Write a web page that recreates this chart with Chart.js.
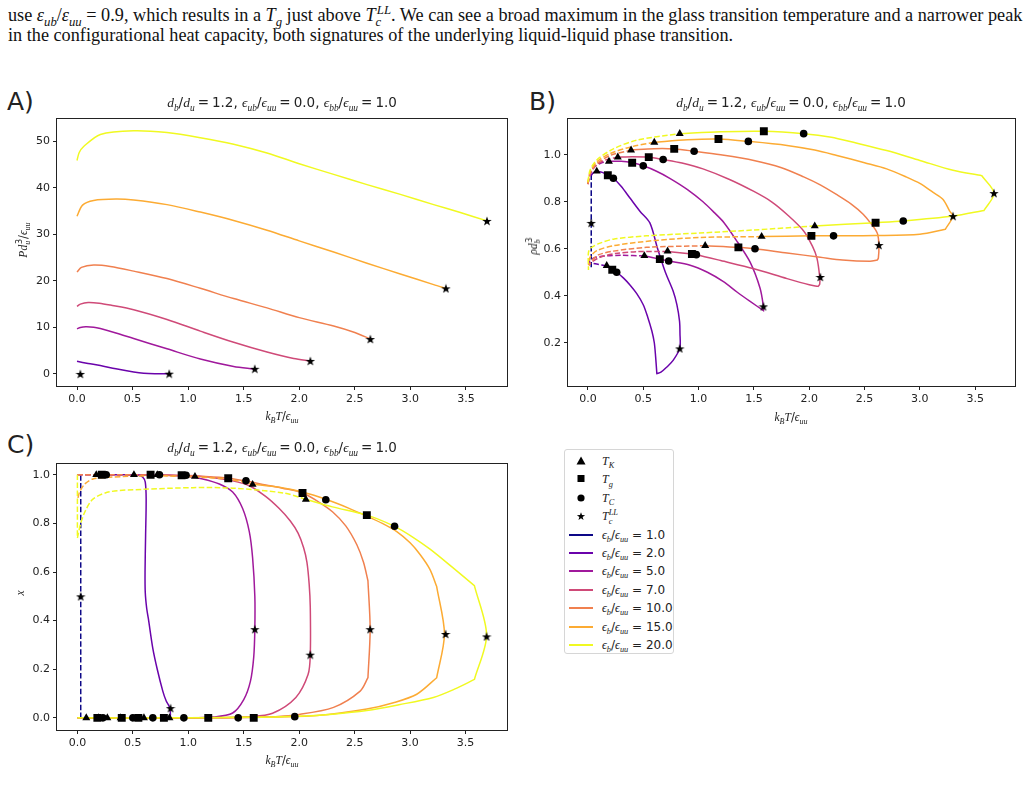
<!DOCTYPE html>
<html>
<head>
<meta charset="utf-8">
<script src="https://cdn.jsdelivr.net/npm/chart.js@4.4.1/dist/chart.umd.min.js"></script>
<style>
  body { margin: 0; background: #fff; }
  #page { position: relative; width: 1030px; height: 803px; overflow: hidden; background: #fff; color: #222; }
  .hdr { position: absolute; left: 8px; font-family: "Liberation Serif", serif; font-size: 18.5px; line-height: 20px; color: #111; white-space: nowrap; transform-origin: 0 0; }
  .hdr i { font-family: "Liberation Serif", serif; }
  .plot { position: absolute; }
  .panel { position: absolute; font-family: "DejaVu Sans", sans-serif; font-size: 25px; line-height: 25px; color: #222; }
  .txt { position: absolute; white-space: nowrap; font-family: "DejaVu Sans", sans-serif; font-size: 13.5px; color: #222; transform: translate(-50%, -50%); }
  .ttl .eq { margin: 0 3px; }
  .lab { font-size: 11.5px; }
  .rot { transform: translate(-50%, -50%) rotate(-90deg); }
  i { font-family: "Liberation Serif", serif; font-style: italic; }
  sub, sup { font-size: 70%; line-height: 0; }
  #legend { position: absolute; left: 564px; top: 449px; width: 108px; height: 203px; border: 1px solid #d6d6d6; border-radius: 3px; background: #fff; }
  .row { position: absolute; left: 0; width: 108px; height: 18px; }
  .sym { position: absolute; left: 4px; top: 0; width: 24px; height: 18px; }
  .rtxt { position: absolute; left: 37px; top: 0; line-height: 18px; font-family: "DejaVu Sans", sans-serif; font-size: 12px; color: #222; white-space: nowrap; }
</style>
</head>
<body>
<div id="page">
  <div class="hdr" id="h1" style="top:5px">use <i>ε</i><sub><i>ub</i></sub>/<i>ε</i><sub><i>uu</i></sub> = 0.9, which results in a <i>T</i><sub><i>g</i></sub> just above <i>T</i><sub><i>c</i></sub><sup style="margin-left:-0.35em"><i>LL</i></sup>. We can see a broad maximum in the glass transition temperature and a narrower peak</div>
  <div class="hdr" id="h2" style="top:25px">in the configurational heat capacity, both signatures of the underlying liquid-liquid phase transition.</div>

  <div class="panel" style="left:7px;top:89px">A)</div>
  <div class="panel" style="left:529px;top:89px">B)</div>
  <div class="panel" style="left:7px;top:432px">C)</div>

  <div class="plot" style="left:7px;top:109px"><canvas id="chA" width="510" height="307"></canvas></div>
  <div class="plot" style="left:523px;top:109px"><canvas id="chB" width="502" height="307"></canvas></div>
  <div class="plot" style="left:7px;top:454px"><canvas id="chC" width="510" height="306"></canvas></div>

  <div class="txt ttl" style="left:282px;top:102px"></div>
  <div class="txt ttl" style="left:791px;top:102px"></div>
  <div class="txt ttl" style="left:282px;top:447px"></div>

  <div class="txt lab xl" style="left:282px;top:416px"></div>
  <div class="txt lab xl" style="left:791px;top:417px"></div>
  <div class="txt lab xl" style="left:282px;top:760px"></div>

  <div class="txt lab rot" style="left:23px;top:240px"><i>Pd</i><sub><i>u</i></sub><sup style="margin-left:-0.4em">3</sup>/<i>ϵ</i><sub><i>uu</i></sub></div>
  <div class="txt lab rot" style="left:533px;top:246px"><i>ρd</i><sub><i>b</i></sub><sup style="margin-left:-0.4em">3</sup></div>
  <div class="txt lab rot" style="left:20px;top:593px"><i>x</i></div>

  <div id="legend"></div>
</div>

<script>
// series: eps_b / eps_uu and their colours
const epsB = [1.0, 2.0, 5.0, 7.0, 10.0, 15.0, 20.0];
const epsColors = ['#0d0887', '#6a03ab', '#a0199c', '#cf4a78', '#f0804f', '#fcab33', '#f0f921'];
const xTicks = [0, 0.5, 1.0, 1.5, 2.0, 2.5, 3.0, 3.5];
const aTicksY = [0, 10, 20, 30, 40, 50];
const bTicksY = [0.2, 0.4, 0.6, 0.8, 1.0];
const cTicksY = [0.0, 0.2, 0.4, 0.6, 0.8, 1.0];

// A) pressure along the LL coexistence line, [T, P]
const aP2 = [[0,2.7],[0.1,2.25],[0.21,1.8],[0.35,1.1],[0.51,0.42],[0.6,0.15],[0.7,0.05],[0.83,0.05]];
const aP5 = [[0,9.7],[0.03,10.0],[0.08,10.15],[0.15,10.05],[0.21,9.75],[0.35,8.8],[0.51,7.6],[0.81,5.4],[1.11,3.2],[1.41,1.6],[1.59,1.06]];
const aP7 = [[0,14.5],[0.03,15.0],[0.1,15.35],[0.2,15.2],[0.3,14.8],[0.51,13.8],[0.81,11.7],[1.11,9.2],[1.41,6.8],[1.71,4.7],[1.95,3.3],[2.1,2.8]];
const aP10 = [[0,21.9],[0.04,22.9],[0.15,23.4],[0.3,23.1],[0.51,22.1],[0.81,20.5],[1.11,18.4],[1.41,16.2],[1.71,14.2],[2.0,12.1],[2.31,10.3],[2.5,8.9],[2.64,7.5]];
const aP15 = [[0,33.9],[0.05,36.3],[0.15,37.3],[0.35,37.6],[0.51,37.4],[0.81,36.4],[1.11,34.8],[1.41,33.0],[1.71,30.9],[2.0,28.6],[2.31,26.2],[2.61,23.8],[2.91,21.5],[3.21,19.2],[3.32,18.4]];
const aP20 = [[0,45.9],[0.02,47.6],[0.06,48.9],[0.21,51.5],[0.51,52.3],[0.81,51.9],[1.11,50.8],[1.41,49.4],[1.71,47.5],[2.0,45.2],[2.31,42.9],[2.61,40.7],[2.91,38.6],[3.21,36.4],[3.45,34.7],[3.69,32.9]];
const aStar = [[0.03,0],[0.83,0.05],[1.6,1.1],[2.1,2.8],[2.64,7.5],[3.32,18.4],[3.69,32.9]];

// B) coexisting densities, [T, rho]; Hi/Lo = dashed low-T parts, Loop = solid part
const bNavy = [[0.03,0.915],[0.03,0.52]];
const bHi2 = [[0.03,0.912],[0.05,0.924],[0.08,0.93]];
const bLoop2 = [[0.08,0.93],[0.13,0.925],[0.18,0.913],[0.23,0.9],[0.3,0.866],[0.38,0.816],[0.47,0.76],[0.56,0.71],[0.63,0.6],[0.7,0.5],[0.77,0.42],[0.804,0.362],[0.828,0.292],[0.832,0.24],[0.83,0.176],[0.77,0.125],[0.714,0.097],[0.66,0.075],[0.623,0.069],[0.623,0.069],[0.612,0.14],[0.6,0.2],[0.578,0.25],[0.54,0.31],[0.5,0.362],[0.44,0.41],[0.38,0.446],[0.32,0.476],[0.26,0.5],[0.22,0.511],[0.17,0.527]];
const bLo2 = [[0.17,0.527],[0.08,0.535],[0.02,0.54]];
const bHi5 = [[0.0,0.875],[0.02,0.915],[0.06,0.948],[0.12,0.965],[0.19,0.972]];
const bLoop5 = [[0.19,0.972],[0.3,0.972],[0.4,0.966],[0.5,0.953],[0.62,0.93],[0.74,0.9],[0.9,0.852],[1.04,0.8],[1.14,0.755],[1.23,0.711],[1.35,0.63],[1.466,0.543],[1.556,0.432],[1.586,0.355],[1.586,0.337],[1.586,0.337],[1.466,0.376],[1.35,0.415],[1.225,0.46],[1.08,0.5],[0.924,0.53],[0.73,0.548],[0.65,0.556],[0.51,0.57]];
const bLo5 = [[0.51,0.57],[0.3,0.572],[0.15,0.569],[0.06,0.562],[0.02,0.55],[0.005,0.535]];
const bHi7 = [[0.0,0.875],[0.02,0.918],[0.07,0.955],[0.16,0.978],[0.27,0.99]];
const bLoop7 = [[0.27,0.99],[0.4,0.992],[0.55,0.99],[0.68,0.98],[0.85,0.965],[1.04,0.94],[1.28,0.895],[1.5,0.844],[1.66,0.8],[1.8,0.746],[1.95,0.676],[2.03,0.61],[2.07,0.56],[2.095,0.48],[2.095,0.45],[2.08,0.44],[2.08,0.44],[2.0,0.447],[1.8,0.473],[1.5,0.515],[1.2,0.55],[0.98,0.575],[0.94,0.578],[0.72,0.588]];
const bLo7 = [[0.72,0.588],[0.45,0.588],[0.25,0.58],[0.11,0.564],[0.04,0.545],[0.01,0.53]];
const bHi10 = [[0.0,0.875],[0.02,0.92],[0.08,0.962],[0.2,0.997],[0.39,1.02]];
const bLoop10 = [[0.39,1.02],[0.6,1.026],[0.78,1.025],[0.96,1.015],[1.2,1.0],[1.5,0.976],[1.75,0.945],[1.95,0.906],[2.1,0.872],[2.25,0.83],[2.38,0.79],[2.49,0.746],[2.57,0.7],[2.6,0.68],[2.62,0.66],[2.63,0.616],[2.625,0.56],[2.615,0.552],[2.615,0.552],[2.55,0.547],[2.3,0.552],[2.1,0.564],[1.8,0.582],[1.51,0.6],[1.36,0.606],[1.06,0.613]];
const bLo10 = [[1.06,0.613],[0.53,0.606],[0.23,0.59],[0.1,0.575],[0.05,0.557],[0.01,0.53]];
const bHi15 = [[0.0,0.88],[0.02,0.927],[0.08,0.97],[0.2,1.005],[0.4,1.035],[0.6,1.053]];
const bLoop15 = [[0.6,1.053],[0.9,1.064],[1.18,1.067],[1.45,1.057],[1.8,1.04],[2.05,1.02],[2.25,0.997],[2.5,0.966],[2.7,0.94],[2.88,0.905],[3.0,0.878],[3.12,0.84],[3.21,0.81],[3.27,0.76],[3.30,0.739],[3.23,0.683],[3.23,0.683],[3.0,0.662],[2.6,0.656],[2.22,0.655],[2.02,0.655],[1.57,0.652]];
const bLo15 = [[1.57,0.652],[1.01,0.648],[0.6,0.635],[0.23,0.613],[0.08,0.592],[0.02,0.564],[0.005,0.53]];
const bHi20 = [[0.0,0.885],[0.02,0.935],[0.08,0.978],[0.23,1.025],[0.44,1.062],[0.83,1.09]];
const bLoop20 = [[0.83,1.09],[1.2,1.098],[1.59,1.10],[1.95,1.09],[2.2,1.075],[2.4,1.053],[2.7,1.018],[3.0,0.976],[3.3,0.934],[3.56,0.911],[3.56,0.911],[3.67,0.837],[3.58,0.763],[3.58,0.763],[3.3,0.739],[2.85,0.718],[2.6,0.711],[2.05,0.697]];
const bLo20 = [[2.05,0.697],[1.5,0.68],[1.01,0.667],[0.53,0.655],[0.23,0.641],[0.11,0.624],[0.03,0.605],[0.005,0.585],[0.005,0.51]];
const bTK = [[0.08,0.93],[0.19,0.972],[0.27,0.99],[0.39,1.02],[0.6,1.053],[0.83,1.09],[0.17,0.528],[0.51,0.57],[0.72,0.59],[1.06,0.613],[1.57,0.652],[2.05,0.697]];
const bTg = [[0.18,0.913],[0.4,0.966],[0.55,0.99],[0.78,1.025],[1.18,1.067],[1.59,1.10],[0.22,0.511],[0.65,0.556],[0.94,0.578],[1.36,0.606],[2.02,0.655],[2.6,0.711]];
const bTC = [[0.23,0.9],[0.5,0.953],[0.68,0.98],[0.96,1.015],[1.45,1.057],[1.95,1.09],[0.26,0.5],[0.73,0.548],[0.98,0.575],[1.51,0.6],[2.22,0.655],[2.85,0.718]];
const bStar = [[0.03,0.71],[0.83,0.176],[1.586,0.355],[2.1,0.48],[2.63,0.616],[3.30,0.739],[3.67,0.837]];

// C) composition x of the coexisting phases, [T, x]
const cNavy = [[0.03,0.0],[0.03,1.0]];
const cLine2 = [[0.17,1.0],[0.4,1.0],[0.55,0.998],[0.59,0.99],[0.612,0.97],[0.62,0.9],[0.615,0.75],[0.61,0.6],[0.612,0.516],[0.625,0.45],[0.64,0.408],[0.68,0.286],[0.72,0.2],[0.77,0.11],[0.8,0.07],[0.83,0.043],[0.83,0.003],[0.5,0.0],[0.08,0.0]];
const cDash5 = [[0.0,1.0],[0.51,1.0]];
const cLine5 = [[0.51,1.0],[0.8,0.998],[1.0,0.993],[1.13,0.983],[1.28,0.962],[1.4,0.929],[1.49,0.861],[1.55,0.766],[1.58,0.658],[1.6,0.5],[1.6,0.365],[1.59,0.25],[1.56,0.15],[1.5,0.075],[1.4,0.02],[1.22,0.003],[1.0,0.0],[0.0,0.0]];
const cDash7 = [[0.0,1.0],[0.72,1.0]];
const cLine7 = [[0.72,1.0],[1.0,0.997],[1.2,0.99],[1.4,0.975],[1.55,0.955],[1.7,0.91],[1.82,0.861],[1.92,0.81],[1.99,0.76],[2.04,0.7],[2.07,0.64],[2.09,0.55],[2.1,0.456],[2.1,0.26],[2.08,0.178],[1.97,0.084],[1.76,0.019],[1.55,0.005],[1.2,0.0],[0.0,0.0]];
const cDash10 = [[0.0,1.0],[0.5,1.0],[1.06,0.995]];
const cLine10 = [[1.06,0.995],[1.36,0.986],[1.51,0.975],[1.7,0.958],[1.85,0.945],[2.03,0.925],[2.17,0.89],[2.3,0.848],[2.42,0.79],[2.52,0.712],[2.58,0.64],[2.62,0.564],[2.62,0.564],[2.64,0.365],[2.62,0.165],[2.62,0.165],[2.55,0.11],[2.31,0.043],[2.0,0.014],[1.7,0.003],[1.2,0.0],[0.0,0.0]];
const cDash15 = [[0.005,0.905],[0.02,0.929],[0.066,0.962],[0.14,0.983],[0.29,0.99],[0.7,0.996],[1.1,0.99],[1.36,0.982],[1.57,0.962]];
const cLine15 = [[1.57,0.962],[1.82,0.949],[2.03,0.929],[2.24,0.899],[2.45,0.862],[2.61,0.83],[2.75,0.8],[2.88,0.766],[3.0,0.72],[3.09,0.672],[3.18,0.61],[3.24,0.54],[3.24,0.54],[3.31,0.345],[3.24,0.165],[3.24,0.165],[3.06,0.097],[2.85,0.062],[2.61,0.036],[2.16,0.0095],[1.7,0.003],[1.0,0.0],[0.0,0.0]];
const cDash20 = [[0.0,1.0],[0.0,0.74],[0.0,0.74],[0.03,0.8],[0.07,0.85],[0.14,0.9],[0.29,0.93],[0.59,0.94],[1.04,0.947],[1.4,0.945],[1.86,0.925],[2.06,0.899]];
const cLine20 = [[2.06,0.899],[2.3,0.868],[2.61,0.834],[2.86,0.788],[3.02,0.745],[3.18,0.694],[3.38,0.62],[3.58,0.544],[3.58,0.544],[3.69,0.34],[3.58,0.158],[3.58,0.158],[3.4,0.118],[3.21,0.084],[2.9,0.054],[2.61,0.03],[2.3,0.015],[2.0,0.007],[1.5,0.002],[0.8,0.0],[0.0,0.0]];
const cTK = [[0.08,0],[0.19,0],[0.27,0],[0.39,0],[0.6,0],[0.83,0],[0.17,1.0],[0.51,1.0],[0.72,1.0],[1.06,0.993],[1.58,0.96],[2.06,0.899]];
const cTg = [[0.18,0],[0.4,0],[0.55,0],[0.78,0],[1.18,0],[1.59,0],[0.22,1.0],[0.66,1.0],[0.94,0.998],[1.36,0.986],[2.03,0.925],[2.61,0.834]];
const cTC = [[0.23,0],[0.5,0],[0.68,0],[0.96,0],[1.45,0],[1.96,0.005],[0.26,1.0],[0.74,1.0],[0.98,0.998],[1.52,0.975],[2.24,0.897],[2.86,0.788]];
const cStar = [[0.03,0.5],[0.84,0.04],[1.6,0.365],[2.1,0.26],[2.64,0.365],[3.32,0.345],[3.69,0.335]];

// per-series lists (index follows epsB)
const aCurves = [null, aP2, aP5, aP7, aP10, aP15, aP20];
const bHiSet = [bNavy, bHi2, bHi5, bHi7, bHi10, bHi15, bHi20];
const bLoopSet = [null, bLoop2, bLoop5, bLoop7, bLoop10, bLoop15, bLoop20];
const bLoSet = [null, bLo2, bLo5, bLo7, bLo10, bLo15, bLo20];
const cDashSet = [cNavy, null, cDash5, cDash7, cDash10, cDash15, cDash20];
const cLineSet = [null, cLine2, cLine5, cLine7, cLine10, cLine15, cLine20];

// filled 5 point star like matplotlib '*'
function starImg(size) {
  const c = document.createElement('canvas');
  c.width = c.height = size;
  const g = c.getContext('2d');
  const r = size / 2, ri = r * 0.4;
  g.beginPath();
  for (let i = 0; i < 10; i++) {
    const a = -Math.PI / 2 + i * Math.PI / 5;
    const rr = i % 2 ? ri : r;
    g.lineTo(r + rr * Math.cos(a), r + 0.5 + rr * Math.sin(a));
  }
  g.closePath();
  g.fillStyle = '#000';
  g.fill();
  return c;
}
const STAR = starImg(10);

const toXY = pts => pts.map(p => ({ x: p[0], y: p[1] }));

function line(pts, color, dashed) {
  return {
    data: toXY(pts), showLine: true, borderColor: color, borderWidth: 1.5,
    borderDash: dashed ? [5.5, 2.4] : [], pointRadius: 0, tension: 0.3, order: 1
  };
}
function marks(pts, style, r) {
  return {
    data: toXY(pts), showLine: false, pointStyle: style, pointRadius: r,
    backgroundColor: '#000', borderColor: '#000', borderWidth: 0, order: 0
  };
}
function markerSets(tk, tg, tc, st) {
  return [marks(tk, 'triangle', 4.6), marks(tg, 'rect', 5.6), marks(tc, 'circle', 3.8), marks(st, STAR, 5)];
}

// draw the full box like matplotlib spines
const frame = {
  id: 'frame',
  afterDatasetsDraw(c) {
    const a = c.chartArea, g = c.ctx;
    g.save();
    g.strokeStyle = '#222';
    g.lineWidth = 1;
    g.strokeRect(Math.round(a.left) - 0.5, Math.round(a.top) - 0.5, Math.round(a.right - a.left) + 1, Math.round(a.bottom - a.top) + 1);
    g.restore();
  }
};

function axis(min, max, ticks, fmt) {
  return {
    type: 'linear', min, max,
    afterBuildTicks: s => { s.ticks = ticks.map(v => ({ value: v })); },
    ticks: { callback: fmt, padding: 3, color: '#222', font: { size: 11 }, maxRotation: 0, autoSkip: false, includeBounds: false },
    grid: { drawOnChartArea: false, drawTicks: true, tickLength: 4, color: '#222', lineWidth: 1 },
    border: { display: false }
  };
}

function makeChart(id, datasets, xr, yr, yTicks, yFmt, yW) {
  const x = axis(xr[0], xr[1], xTicks, v => v.toFixed(1));
  x.afterFit = s => { s.height = 30; };
  const y = axis(yr[0], yr[1], yTicks, yFmt);
  y.afterFit = s => { s.width = yW; };
  return new Chart(document.getElementById(id), {
    type: 'scatter',
    data: { datasets },
    options: {
      responsive: false, animation: false, events: [],
      layout: { padding: { top: 5, right: 10, left: 0, bottom: 0 } },
      plugins: { legend: { display: false }, tooltip: { enabled: false } },
      scales: { x, y }
    },
    plugins: [frame]
  });
}

Chart.defaults.font.family = '"DejaVu Sans", sans-serif';
Chart.defaults.color = '#222';

// A
const dsA = [marks(aStar, STAR, 5)];
for (let i = epsB.length - 1; i >= 0; i--) if (aCurves[i]) dsA.push(line(aCurves[i], epsColors[i], false));
makeChart('chA', dsA, [-0.18, 3.87], [-2.6, 54.9], aTicksY, v => String(v), 50);

// B
const dsB = markerSets(bTK, bTg, bTC, bStar);
for (let i = epsB.length - 1; i >= 0; i--) {
  if (bLoopSet[i]) dsB.push(line(bLoopSet[i], epsColors[i], false));
  if (bHiSet[i]) dsB.push(line(bHiSet[i], epsColors[i], true));
  if (bLoSet[i]) dsB.push(line(bLoSet[i], epsColors[i], true));
}
makeChart('chB', dsB, [-0.18, 3.86], [0.016, 1.154], bTicksY, v => v.toFixed(1), 45);

// C
const dsC = markerSets(cTK, cTg, cTC, cStar);
for (let i = epsB.length - 1; i >= 0; i--) {
  if (cLineSet[i]) dsC.push(line(cLineSet[i], epsColors[i], false));
  if (cDashSet[i]) dsC.push(line(cDashSet[i], epsColors[i], true));
}
makeChart('chC', dsC, [-0.184, 3.874], [-0.05, 1.046], cTicksY, v => v.toFixed(1), 50);

// titles and x labels
const EQ = '<span class="eq">=</span>';
const titleHTML = '<i>d</i><sub><i>b</i></sub>/<i>d</i><sub><i>u</i></sub>' + EQ + '1.2, <i>ϵ</i><sub><i>ub</i></sub>/<i>ϵ</i><sub><i>uu</i></sub>' + EQ + '0.0, <i>ϵ</i><sub><i>bb</i></sub>/<i>ϵ</i><sub><i>uu</i></sub>' + EQ + '1.0';
document.querySelectorAll('.ttl').forEach(el => { el.innerHTML = titleHTML; });
document.querySelectorAll('.xl').forEach(el => { el.innerHTML = '<i>k</i><sub><i>B</i></sub><i>T</i>/<i>ϵ</i><sub><i>uu</i></sub>'; });

// legend
const legendSyms = [
  ['<svg width="24" height="18"><polygon points="12,4.5 16.5,12.5 7.5,12.5" fill="#000"/></svg>', '<i>T</i><sub><i>K</i></sub>'],
  ['<svg width="24" height="18"><rect x="8.5" y="5" width="7" height="7" fill="#000"/></svg>', '<i>T</i><sub><i>g</i></sub>'],
  ['<svg width="24" height="18"><circle cx="12" cy="9" r="3.6" fill="#000"/></svg>', '<i>T</i><sub><i>C</i></sub>'],
  ['<svg width="24" height="18"><polygon fill="#000" points="' +
     Array.from({ length: 10 }, (_, k) => { const a = -Math.PI / 2 + k * Math.PI / 5, rr = k % 2 ? 1.7 : 4.3; return (12 + rr * Math.cos(a)).toFixed(2) + ',' + (9.5 + rr * Math.sin(a)).toFixed(2); }).join(' ') +
     '"/></svg>', '<i>T</i><sub><i>c</i></sub><sup style="margin-left:-0.45em"><i>LL</i></sup>']
];
const leg = document.getElementById('legend');
let html = '';
legendSyms.forEach((s, k) => {
  html += '<div class="row" style="top:' + (2 + k * 18.4) + 'px"><div class="sym">' + s[0] + '</div><div class="rtxt">' + s[1] + '</div></div>';
});
epsB.forEach((e, k) => {
  const top = Math.round(2 + (k + 4) * 18.4);
  html += '<div class="row" style="top:' + top + 'px"><div class="sym"><div style="position:absolute;left:0;top:8px;width:24px;height:2px;background:' + epsColors[k] + '"></div></div>' +
    '<div class="rtxt"><i>ϵ</i><sub><i>b</i></sub>/<i>ϵ</i><sub><i>uu</i></sub> = ' + e.toFixed(1) + '</div></div>';
});
leg.innerHTML = html;

// fit the header lines to the page width like the typeset source
function fitHeader() {
  const h1 = document.getElementById('h1'), h2 = document.getElementById('h2');
  const w = h1.offsetWidth;
  const k = 1014 / w;
  h1.style.transform = 'scaleX(' + k + ')';
  h2.style.transform = 'scaleX(' + k + ')';
}
fitHeader();
if (document.fonts && document.fonts.ready) document.fonts.ready.then(fitHeader);
</script>
</body>
</html>
